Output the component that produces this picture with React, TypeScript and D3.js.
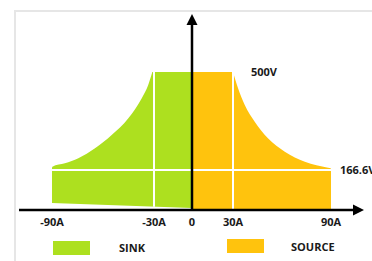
import * as d3 from "d3";

// current (A) / voltage (V)
const ampTicks = [-90, -30, 0, 30, 90];
const ampLabels = ["-90A", "-30A", "0", "30A", "90A"];
const voltMarks = [500, 166.6];
const voltLabels = ["500V", "166.6V"];

const sinkCurveA = [-90, -89.8, -82.4, -74.5, -64.7, -54.9, -45.1, -37.2, -33.4, -31];
const sinkCurveV = [172, 177.8, 189.4, 206.4, 240.4, 285.6, 342.5, 410.5, 455.7, 500];
const sinkBottomA = [0, -90];
const sinkBottomV = [8, 29];

const sourceCurveA = [30, 33.1, 37.2, 43.3, 51.4, 61.7, 74.0, 88.2, 90];
const sourceCurveV = [500, 444.5, 387.7, 330.9, 274.4, 228.8, 194.8, 174.4, 172];

const legendNames = ["SINK", "SOURCE"];
const GREEN = "#ade01f";
const ORANGE = "#ffc30d";

const W = 372;
const H = 261;

export default function App() {
  const x = d3.scaleLinear().domain([-90, -30, 0, 30, 90]).range([52, 154, 192, 233, 331]);
  const y = d3.scaleLinear().domain([0, 166.6, 500]).range([210, 170, 72]);

  const curve = d3
    .line<[number, number]>()
    .x((d) => x(d[0]))
    .y((d) => y(d[1]))
    .curve(d3.curveMonotoneX);

  const sinkPts = sinkCurveA.map((a, i) => [a, sinkCurveV[i]] as [number, number]);
  const sinkPath =
    curve(sinkPts) +
    `L${x(0)},${y(500)}` +
    sinkBottomA.map((a, i) => `L${x(a)},${y(sinkBottomV[i])}`).join("") +
    "Z";

  const srcPts = sourceCurveA.map((a, i) => [a, sourceCurveV[i]] as [number, number]);
  const srcPath =
    `M${x(0)},${y(0)}L${x(0)},${y(500)}` +
    curve(srcPts)!.replace(/^M/, "L") +
    `L${x(90)},${y(0)}Z`;

  const font = "'Open Sans', sans-serif";
  const x0 = x(0);
  const y0 = y(0);

  return (
    <svg
      width={W}
      height={H}
      style={{ position: "absolute", left: 0, top: 0, background: "#fff" }}
    >
      <rect x={15} y={11} width={400} height={300} fill="#fff" stroke="#e6e6e6" strokeWidth={2} />

      <path d={sinkPath} fill={GREEN} />
      <path d={srcPath} fill={ORANGE} />

      {/* white grid lines */}
      <line x1={x(-90)} x2={x(90)} y1={y(166.6)} y2={y(166.6)} stroke="#fff" strokeWidth={2} />
      <line x1={x(-30)} x2={x(-30)} y1={y(500)} y2={y(14)} stroke="#fff" strokeWidth={2} />
      <line x1={x(30)} x2={x(30)} y1={y(500)} y2={y(0)} stroke="#fff" strokeWidth={2} />

      {/* axes */}
      <line x1={19} x2={354} y1={y0} y2={y0} stroke="#000" strokeWidth={2.5} />
      <polygon points={`364,${y0} 353,${y0 - 5.5} 353,${y0 + 5.5}`} fill="#000" />
      <line x1={x0} x2={x0} y1={y0 + 1} y2={24} stroke="#000" strokeWidth={2.5} />
      <polygon points={`${x0},14 ${x0 - 5.5},25 ${x0 + 5.5},25`} fill="#000" />

      {ampTicks.map((a, i) => (
        <text
          key={a}
          x={x(a)}
          y={226}
          textAnchor="middle"
          fontFamily={font}
          fontWeight={700}
          fontSize={11}
          fill="#1a1a1a"
        >
          {ampLabels[i]}
        </text>
      ))}

      {voltMarks.map((v, i) => (
        <text
          key={v}
          x={i === 0 ? 251 : 340}
          y={y(v) + 4}
          fontFamily={font}
          fontWeight={700}
          fontSize={11}
          fill="#1a1a1a"
        >
          {voltLabels[i]}
        </text>
      ))}

      {legendNames.map((n, i) => (
        <g key={n}>
          <rect x={i === 0 ? 53 : 227} y={i === 0 ? 241 : 239} width={37} height={14} fill={i === 0 ? GREEN : ORANGE} />
          <text
            x={i === 0 ? 119 : 291}
            y={i === 0 ? 252 : 251}
            fontFamily={font}
            fontWeight={700}
            fontSize={11}
            fill="#1a1a1a"
          >
            {n}
          </text>
        </g>
      ))}
    </svg>
  );
}
